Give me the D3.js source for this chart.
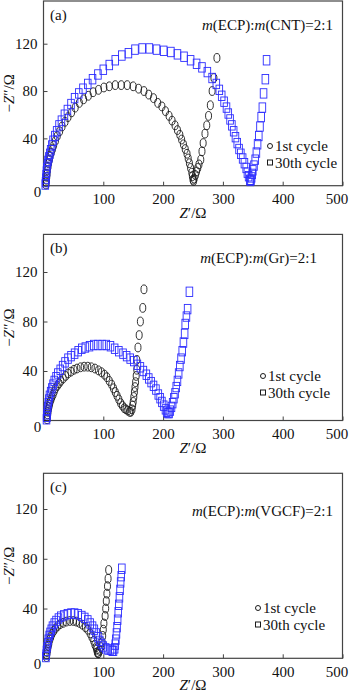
<!DOCTYPE html>
<html lang="en">
<head>
<meta charset="UTF-8">
<title>Nyquist plots</title>
<script src="https://d3js.org/d3.v7.min.js"></script>
<style>
  body { margin: 0; background: #fff; }
  svg text { font-family: "Liberation Serif", "Times New Roman", serif; fill: #111; }
</style>
</head>
<body>
<svg id="chart" width="350" height="694"></svg>
<script>

// ---- data ----
const xTicks = [100, 200, 300, 400, 500];
const yTicks = [40, 80, 120];
const panelLabels = ['(a)', '(b)', '(c)'];
const conductive = ['CNT', 'Gr', 'VGCF'];
const seriesNames = ['1st cycle', '30th cycle'];

// panel (a) m(ECP):m(CNT)=2:1
const cntFirst = [[4,1],[4.5,3],[5,5],[5.5,7.5],[6,10],[6.5,13],[7.5,16],[8.5,19],[10,22],[11,25],[13,28],[15,31],[17,34],[20,38],[23,42],[27,46],[31,50],[36,54],[41,58],[47,62],[53,66],[60,70],[67,73],[75,76],[83,79],[92,81],[101,83],[110,84],[120,85],[130,85],[140,85],[150,84],[159,82],[168,80],[176,77],[184,74],[191,70],[198,67],[204,63],[210,59],[215,55],[220,51],[224,47],[228,43],[231,39],[234,35],[237,31],[240,27],[242,23],[244,19],[246,15],[248,11],[249,8],[250,5],[251,4],[252,6],[254,9],[256,12],[258,15],[260,18],[263,22],[265,29],[267,36],[270,44],[273,51],[276,59],[279,68],[282,80],[285,91],[290,108]];
const cntLast = [[3,1],[3.5,3],[4,6],[4.5,9],[5,12],[5.5,15],[6.5,18],[7.5,21],[9,24],[10.5,27],[12,30],[14,34],[16,38],[19,42],[22,46],[26,51],[30,55],[35,60],[40,64],[46,69],[52,74],[59,78],[66,82],[74,86],[82,90],[91,94],[100,98],[110,102],[120,106],[131,110],[142,112],[153,115],[165,116],[177,116],[189,115],[201,114],[213,113],[224,111],[235,109],[246,106],[256,103],[265,100],[274,96],[282,91],[289,86],[294,81],[298,76],[302,71],[306,66],[309,61],[312,56],[315,51],[318,46],[321,41],[324,36],[327,31],[330,27],[333,23],[336,19],[339,15],[341,11],[343,8],[345,5],[346,4],[347,5],[348,7],[349,10],[350,13],[352,17],[354,22],[356,28],[358,35],[360,42],[362,50],[364,58],[366,66],[368,78],[371,90],[373,106]];

// panel (b) m(ECP):m(Gr)=2:1
const grFirst = [[6,1],[6.5,3],[7,5],[7.5,7],[8,9],[9,11],[10,13],[11,15],[12.5,17],[14,19],[16,21],[18,23.5],[20,26],[23,28],[26,30],[29,32],[33,34],[37,36],[41,38],[46,39.5],[51,41],[56,42],[62,43],[68,43.5],[74,43.5],[80,43],[86,42],[92,40.5],[97,39],[102,37],[106,35],[110,32],[114,29],[117,26],[120,23],[123,20],[126,17],[129,14],[132,12],[135,10],[138,9],[141,8],[144,7],[146,7],[148,9],[149,12],[150,15],[151,19],[152,23],[153,27],[154,31],[155,36],[156,41],[156,49],[158,59],[160,69],[162,80],[166,91],[168,106]];
const grLast = [[5,1],[5.5,3],[6,5],[6.5,8],[7,11],[8,14],[9,17],[10,20],[12,23],[14,26],[16,29],[18,32],[21,35],[24,38],[28,41],[32,44],[36,47],[41,50],[46,52],[52,54],[58,56],[64,58],[70,59],[77,60],[84,61],[91,61],[98,61],[105,61],[112,60],[119,58],[126,56],[133,54],[139,52],[145,50],[151,48],[157,45],[162,43],[167,40],[172,37],[176,34],[180,31],[184,28],[188,25],[192,21],[195,18],[198,15],[201,12],[204,9],[206,7],[208,6],[210,6],[212,8],[214,11],[216,14],[218,18],[220,22],[222,27],[224,32],[226,38],[228,44],[230,50],[232,56],[234,63],[236,70],[237,78],[239,84],[241,90],[244,104]];

// panel (c) m(ECP):m(VGCF)=2:1
const vgcfFirst = [[5,1],[5.5,3],[6,5],[7,7],[8,10],[9,12],[10.5,15],[12,17],[14,19.5],[17,22],[20,24],[24,26],[28,27.5],[33,28.5],[38,29.5],[44,30],[50,30],[55,29.5],[60,28.5],[65,27],[70,25],[74,23],[78,20],[81,17],[84,14],[86,11],[88,9],[89,7],[90,5],[91,4],[92,4],[94,6],[96,9],[98,13],[99,18],[100,23],[101,28],[103,34],[104,40],[105,46],[106,52],[107,58],[108,64],[109,71]];
const vgcfLast = [[4,1],[4.5,3],[5,6],[6,9],[7,12],[8,15],[9.5,18],[11,20.5],[13,23],[15,25.5],[18,28],[21,30],[25,32],[29,33.5],[34,34.5],[40,35.5],[46,36],[52,36],[58,35.5],[64,34],[69,32.5],[74,30.5],[78,28],[82,25.5],[85,23],[88,20],[91,17],[94,14],[97,11.5],[100,9.5],[104,8],[108,7],[112,7],[115,6],[117,6],[119,8],[120,11],[121,15],[122,20],[123,25],[124,31],[125,37],[126,43],[127,49],[128,55],[129,61],[130,66],[131,72]];

const firstSeries = [cntFirst, grFirst, vgcfFirst];
const lastSeries = [cntLast, grLast, vgcfLast];

// ---- layout ----
const left = 43.5, right = 342.5;
// per panel: frame top, pixel of y=0 and of y=120, note and legend spots
const layout = [
  { top: 1,     y0: 185.7, y120: 43.7,  noteY: 30,  noteX: 333, legX: 270, legY: 146 },
  { top: 234.4, y0: 420.5, y120: 272,   noteY: 263, noteX: 317, legX: 263, legY: 376 },
  { top: 473.3, y0: 658.3, y120: 509,   noteY: 516, noteX: 333, legX: 258, legY: 608 }
];

const black = '#1a1a1a';
const blue = '#2d2dff';

const svg = d3.select('#chart');
const x = d3.scaleLinear().domain([0, 500]).range([left, right]);

layout.forEach((p, i) => {
  const y = d3.scaleLinear().domain([0, 120]).range([p.y0, p.y120]);
  const g = svg.append('g').attr('class', 'panel');

  // frame
  g.append('rect')
    .attr('x', left).attr('y', p.top)
    .attr('width', right - left).attr('height', p.y0 - p.top)
    .style('fill', 'none').style('stroke', '#444').style('stroke-width', 1.2);

  // axes with inward ticks
  const xAxis = d3.axisBottom(x).tickValues(xTicks).tickSize(-4).tickPadding(8);
  g.append('g').attr('transform', `translate(0,${p.y0})`).call(xAxis)
    .call(a => a.select('.domain').remove())
    .call(a => a.selectAll('line').style('stroke', '#444'))
    .call(a => a.selectAll('text').style('font-size', '15px').style('font-family', 'Liberation Serif'))
    .call(a => a.selectAll('text').filter(d => d === 500).attr('dx', -6));

  const yAxis = d3.axisLeft(y).tickValues(yTicks).tickSize(-4).tickPadding(6);
  g.append('g').attr('transform', `translate(${left},0)`).call(yAxis)
    .call(a => a.select('.domain').remove())
    .call(a => a.selectAll('line').style('stroke', '#444'))
    .call(a => a.selectAll('text').style('font-size', '15px').style('font-family', 'Liberation Serif'));

  // shared origin label
  g.append('text').attr('x', left - 6).attr('y', p.y0 + 11)
    .attr('text-anchor', 'middle').style('font-size', '15px').text('0');

  // axis titles
  const xt = g.append('text').attr('x', (left + right) / 2).attr('y', p.y0 + 32)
    .attr('text-anchor', 'middle').style('font-size', '15px');
  xt.append('tspan').style('font-style', 'italic').text('Z');
  xt.append('tspan').text('′/Ω');

  const yt = g.append('text')
    .attr('transform', `translate(14,${(p.top + p.y0) / 2}) rotate(-90)`)
    .attr('text-anchor', 'middle').style('font-size', '15px');
  yt.append('tspan').text('−');
  yt.append('tspan').style('font-style', 'italic').text('Z');
  yt.append('tspan').text('″/Ω');

  // panel label and composition note
  g.append('text').attr('x', 50).attr('y', p.top + 19)
    .style('font-size', '15px').text(panelLabels[i]);

  const note = g.append('text').attr('x', p.noteX).attr('y', p.noteY)
    .attr('text-anchor', 'end').style('font-size', '15px');
  note.append('tspan').style('font-style', 'italic').text('m');
  note.append('tspan').text('(ECP):');
  note.append('tspan').style('font-style', 'italic').text('m');
  note.append('tspan').text(`(${conductive[i]})=2:1`);

  // data markers
  g.append('g').selectAll('ellipse')
    .data(firstSeries[i]).join('ellipse')
    .attr('cx', d => x(d[0])).attr('cy', d => y(d[1]))
    .attr('rx', 3).attr('ry', 4.4)
    .style('fill', 'none').style('stroke', black).style('stroke-width', 0.9);

  g.append('g').selectAll('rect')
    .data(lastSeries[i]).join('rect')
    .attr('x', d => x(d[0]) - 3.3).attr('y', d => y(d[1]) - 4.7)
    .attr('width', 6.6).attr('height', 9.4)
    .style('fill', 'none').style('stroke', blue).style('stroke-width', 0.9);

  // legend
  const leg = g.append('g').attr('transform', `translate(${p.legX},${p.legY})`);
  leg.append('circle').attr('cx', 0).attr('cy', 0).attr('r', 2.5)
    .style('fill', 'none').style('stroke', black).style('stroke-width', 1);
  leg.append('rect').attr('x', -2.5).attr('y', 14).attr('width', 5).attr('height', 5)
    .style('fill', 'none').style('stroke', black).style('stroke-width', 1);
  leg.selectAll('text.leg').data(seriesNames).join('text')
    .attr('class', 'leg')
    .attr('x', 5).attr('y', (d, k) => k * 16.5 + 5)
    .style('font-size', '15px').text(d => d);
});

</script>
</body>
</html>
